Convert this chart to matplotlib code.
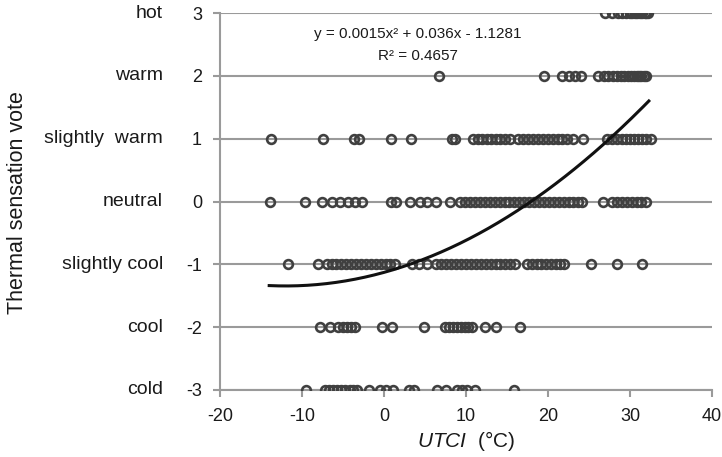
import numpy as np
import matplotlib
matplotlib.use("Agg")
import matplotlib.pyplot as plt
from matplotlib.transforms import blended_transform_factory

plt.rcParams['font.family'] = ['Liberation Sans', 'DejaVu Sans']
plt.rcParams['mathtext.fontset'] = 'custom'
plt.rcParams['mathtext.it'] = 'Liberation Sans:italic'
plt.rcParams['mathtext.rm'] = 'Liberation Sans'
plt.rcParams['axes.unicode_minus'] = False

# Data (UTCI values per thermal sensation vote)
hot = [27.0, 27.8, 28.5, 29.0, 29.5, 30.0, 30.3, 30.6, 30.9, 31.2, 31.5, 31.8, 32.0, 32.2]
warm = [6.7, 19.5, 21.7, 22.6, 23.3, 24.0, 26.1, 26.8, 27.3, 27.9, 28.4, 28.9, 29.3,
        29.7, 30.1, 30.5, 30.8, 31.1, 31.4, 31.7, 32.0]
slightly_warm = [-13.8, -7.5, -3.7, -3.1, 0.9, 3.3, 8.3, 8.7, 10.9, 11.5, 12.0, 12.6,
                 13.1, 13.7, 14.2, 14.8, 15.4, 16.4, 17.0, 17.6, 18.2, 18.8, 19.4,
                 20.0, 20.6, 21.2, 21.7, 22.3, 23.1, 24.3, 27.2, 27.8, 28.4, 29.0,
                 29.5, 30.0, 30.5, 31.0, 31.5, 32.0, 32.6]
neutral = [-13.9, -9.6, -7.6, -6.4, -5.4, -4.4, -3.5, -2.7, 0.9, 1.5, 3.2, 4.4, 5.2,
           6.4, 8.0, 9.3, 9.9, 10.5, 11.1, 11.7, 12.3, 12.9, 13.5, 14.1, 14.7, 15.3,
           15.9, 16.5, 17.1, 17.7, 18.3, 18.9, 19.5, 20.1, 20.7, 21.3, 21.9, 22.5,
           23.1, 23.6, 24.1, 26.7, 27.8, 28.4, 29.0, 29.6, 30.2, 30.8, 31.4, 32.0]
slightly_cool = [-11.7, -8.1, -7.0, -6.4, -5.8, -5.2, -4.6, -4.0, -3.4, -2.8, -2.2,
                 -1.6, -1.0, -0.4, 0.2, 0.7, 1.3, 3.4, 4.3, 5.2, 6.4, 7.0, 7.6, 8.2,
                 8.8, 9.4, 10.0, 10.6, 11.2, 11.8, 12.4, 13.0, 13.6, 14.2, 14.8, 15.4,
                 16.0, 17.4, 18.0, 18.6, 19.2, 19.8, 20.4, 21.0, 21.5, 21.9, 25.3,
                 28.4, 31.5]
cool = [-7.8, -6.6, -5.6, -5.0, -4.5, -4.0, -3.5, -0.3, 1.0, 4.9, 7.4, 7.9, 8.4, 8.9,
        9.4, 9.9, 10.3, 10.7, 12.3, 13.7, 16.6]
cold = [-9.5, -7.2, -6.7, -6.2, -5.7, -5.2, -4.7, -4.2, -3.8, -3.3, -1.8, -0.5, 0.3,
        1.1, 3.0, 3.6, 6.5, 7.6, 8.9, 9.5, 10.1, 11.1, 15.8]

votes = [3, 2, 1, 0, -1, -2, -3]
groups = [hot, warm, slightly_warm, neutral, slightly_cool, cool, cold]
vote_names = ["hot", "warm", "slightly  warm", "neutral", "slightly cool", "cool", "cold"]

# Fitted trendline (coefficients as reported on the chart)
coef = [0.0015, 0.036, -1.1281]
fit_range = [-14.0, 32.3]
eq_text = "y = 0.0015x² + 0.036x - 1.1281"
r2_text = "R² = 0.4657"

xticks = [-20, -10, 0, 10, 20, 30, 40]

fig = plt.figure(figsize=(7.22, 4.57), dpi=100)
ax = fig.add_axes([220/722, 1-390/457, (712-220)/722, (390-13)/457])

grid_col = '#9a9a9a'
txt_col = '#1a1a1a'
for v in votes:
    ax.axhline(v, color=grid_col, lw=1.5, zorder=1)

for v, g in zip(votes, groups):
    ax.plot(g, [v]*len(g), linestyle='none', marker='o', markersize=6.3,
            markerfacecolor='none', markeredgecolor='#404040', markeredgewidth=1.9,
            zorder=3)

xs = np.linspace(fit_range[0], fit_range[1], 200)
ax.plot(xs, np.polyval(coef, xs), color='#111111', lw=2.2, zorder=4)

ax.set_xlim(-20, 40)
ax.set_ylim(-3, 3)
ax.set_xticks(xticks)
ax.set_yticks(votes)
ax.set_yticklabels([str(v) for v in votes])
for s in ['top', 'right']:
    ax.spines[s].set_visible(False)
for s in ['left', 'bottom']:
    ax.spines[s].set_color(grid_col)
    ax.spines[s].set_linewidth(1.5)
ax.tick_params(axis='both', colors=grid_col, width=1.5, length=5, labelsize=13,
               labelcolor=txt_col)
ax.tick_params(axis='y', pad=8)
ax.tick_params(axis='x', pad=8)

trans = blended_transform_factory(fig.transFigure, ax.transData)
for v, name in zip(votes, vote_names):
    ax.text(163/722, v, name, transform=trans, ha='right', va='center',
            fontsize=14, color=txt_col)

ax.set_xlabel(r"$\it{UTCI}$  (°C)", fontsize=15, color=txt_col, labelpad=3)
fig.text(18/722, 1-203/457, "Thermal sensation vote", rotation=90, ha='center',
         va='center', fontsize=15.5, color=txt_col)

fig.text(418/722, 1-34/457, eq_text, fontsize=11, color=txt_col, ha='center',
         va='center')
fig.text(418/722, 1-56/457, r2_text, fontsize=11, color=txt_col, ha='center',
         va='center')

fig.savefig("out.png", dpi=100)
